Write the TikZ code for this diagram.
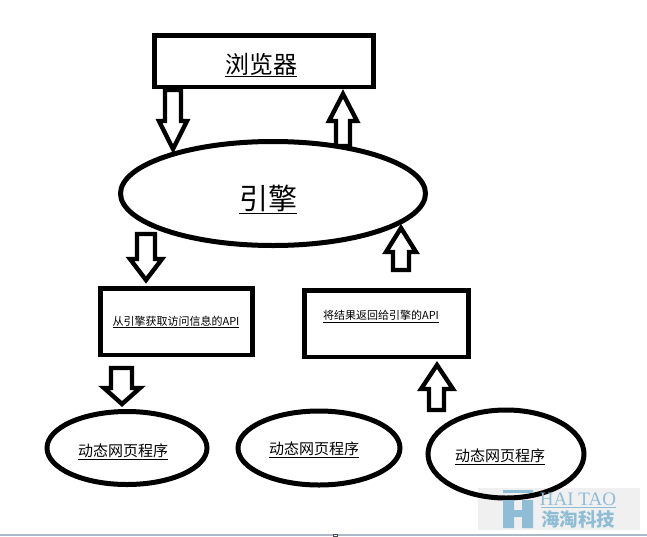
\documentclass[tikz,border=0pt]{standalone}
\usepackage{fontspec}
\setmainfont{Noto Sans CJK SC}
\newfontfamily\wmserif{Liberation Serif}
\definecolor{wmblue}{HTML}{8FBDD6}
\definecolor{stripcol}{HTML}{AAB8C8}
\tikzset{
  thickbox/.style={draw=black,line width=4.8pt,fill=white,inner sep=0pt},
  oval/.style={draw=black,line width=5pt,fill=white},
  blockarrow/.style={draw=black,line width=4.4pt,fill=white,line join=miter,miter limit=3},
  lbl/.style={inner sep=0pt,text=black,font=\fontsize{#1}{#1}\selectfont},
}
\newcommand{\vblock}[8]{% name, tipx, tipy, baseY, neckY, half shaft L, half shaft R, half head
  \draw[blockarrow] (#2-#8,#5) -- (#2,#3) -- (#2+#8,#5) -- (#2+#7,#5) -- (#2+#7,#4) -- (#2-#6,#4) -- (#2-#6,#5) -- cycle;
}
\begin{document}
\begin{tikzpicture}[x=1pt,y=-1pt]
\useasboundingbox (0,0) rectangle (647,536);
\fill[white] (0,0) rectangle (647,536);
% arrows under the shapes
\vblock{a1}{173}{149}{90}{121}{8}{8}{14}
\vblock{a2}{343}{94}{146}{121}{7}{7}{14}
% shapes
\draw[oval] (273,193.5) ellipse [x radius=152.5, y radius=52];
\draw[thickbox] (154.5,35.5) rectangle (373.5,87);
\node[lbl=24] (browser) at (261,65) {\underline{浏览器}};
\node[lbl=29] (engine) at (268,199.5) {\underline{引擎}};
\draw[thickbox] (100.5,288.5) rectangle (252.5,355);
\draw[thickbox] (304.5,290.5) rectangle (468.5,357);
\node[lbl=11] (getapi) at (176,322) {\underline{从引擎获取访问信息的API}};
\node[lbl=11] (setapi) at (381,316.5) {\underline{将结果返回给引擎的API}};
\vblock{a3}{146}{280}{234}{259}{9}{9}{16}
\vblock{a4}{401}{228}{270}{252}{8}{8}{15}
\vblock{a5}{122}{404}{368}{388}{11}{10}{18}
\vblock{a6}{437}{365}{410}{389}{8}{7}{16}
\draw[oval] (127,448) ellipse [x radius=80, y radius=36.5];
\draw[oval] (319,448) ellipse [x radius=81, y radius=37];
\draw[oval] (506,454) ellipse [x radius=78, y radius=44];
\node[lbl=15] (p1) at (123,451.5) {\underline{动态网页程序}};
\node[lbl=15] (p2) at (314,449.5) {\underline{动态网页程序}};
\node[lbl=15] (p3) at (500,456.5) {\underline{动态网页程序}};
% watermark
\fill[black,opacity=.06] (478,488) rectangle (640,530);
\fill[wmblue] (503,490) rectangle (533,493);
\fill[wmblue] (503,500) rectangle (514,528) (522,500) rectangle (533,528) (514,510) rectangle (522,517);
\fill[wmblue] (541,506.8) rectangle (616,507.6);
\node[inner sep=0pt,text=wmblue,font=\wmserif\fontsize{19}{19}\selectfont] (haitao) at (578,499) {HAI TAO};
\node[inner sep=0pt,text=wmblue,font=\bfseries\fontsize{18.5}{18.5}\selectfont] (hname) at (578,519) {海淘科技};
% bottom strip
\fill[stripcol] (0,534) rectangle (647,536);
\draw[black!70,fill=white,line width=.7pt] (333.5,536) rectangle (337.5,534.5);
\end{tikzpicture}
\end{document}
